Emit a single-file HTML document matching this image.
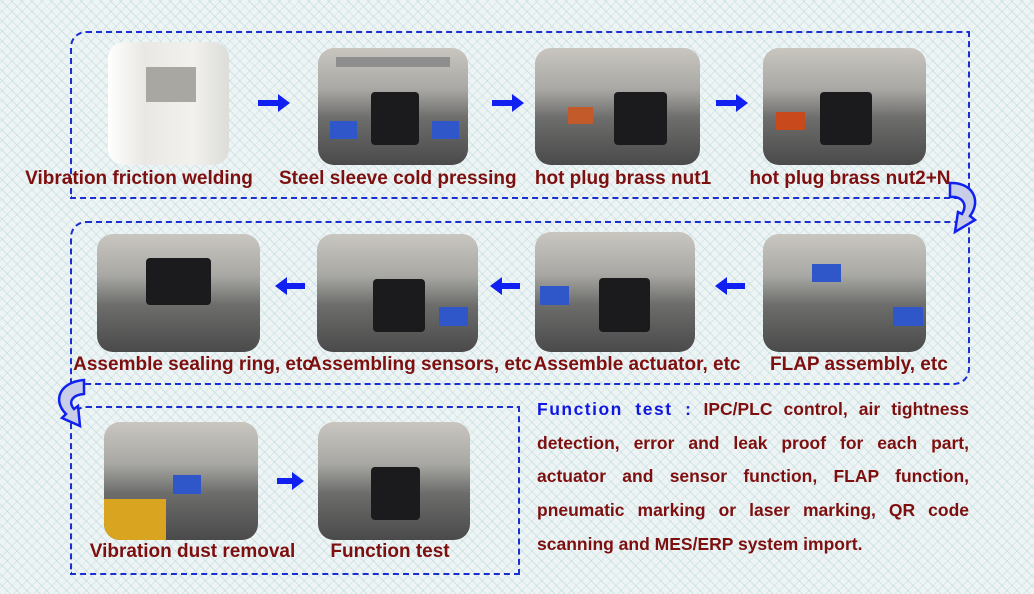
<!DOCTYPE html>
<html><head><meta charset="utf-8"><style>
body{margin:0;width:1034px;height:594px;overflow:hidden;position:relative;font-family:"Liberation Sans",sans-serif;
background-color:#eef3f4;
background-image:repeating-linear-gradient(45deg,rgba(150,200,205,.35) 0 1px,transparent 1px 7px),repeating-linear-gradient(-45deg,rgba(150,200,205,.25) 0 1px,transparent 1px 7px);}
.box{position:absolute;border:2px dashed #1a2fd0;}
.ph{position:absolute;border-radius:16px;overflow:hidden;
background:linear-gradient(180deg,#c9c6c0 0%,#a9a8a4 35%,#6d6d6c 60%,#4a4a4a 100%);}
.ph .blk{position:absolute;left:35%;top:38%;width:32%;height:45%;background:#1b1b1e;border-radius:4px}
.ph .bl{position:absolute;width:18%;height:16%;background:#2f57c9;bottom:22%}
.ph .fr{position:absolute;left:12%;top:8%;width:76%;height:8%;background:#8e8e8e}
.lb{position:absolute;font-weight:bold;font-size:19px;color:#7d0f0f;white-space:nowrap;letter-spacing:0px;text-align:center}
.tx{position:absolute;left:537px;width:432px;font-weight:bold;font-size:17.5px;color:#7d0f0f;text-align:justify;text-align-last:justify;white-space:nowrap;letter-spacing:0px}
</style></head><body>
<div class="box" style="left:70px;top:31px;width:896px;height:164px;border-radius:16px 0 0 0"></div>
<div class="box" style="left:70px;top:221px;width:896px;height:160px;border-radius:16px 0 16px 0"></div>
<div class="box" style="left:70px;top:406px;width:446px;height:165px;border-radius:16px 0 0 0"></div>

<div class="ph" style="left:108px;top:42px;width:121px;height:123px;background:linear-gradient(90deg,#fff 0%,#e9e8e4 30%,#f2f1ee 70%,#dcdcd8 100%)"><div style="position:absolute;left:38px;top:25px;width:50px;height:35px;background:#a9a7a2"></div></div>
<div class="ph" style="left:318px;top:48px;width:150px;height:117px"><div class="fr"></div><div class="blk"></div><div class="bl" style="left:8%"></div><div class="bl" style="right:6%"></div></div>
<div class="ph" style="left:535px;top:48px;width:165px;height:117px"><div class="blk" style="left:48%"></div><div style="position:absolute;left:20%;top:50%;width:15%;height:15%;background:#c25a2a"></div></div>
<div class="ph" style="left:763px;top:48px;width:163px;height:117px"><div class="blk"></div><div style="position:absolute;left:8%;top:55%;width:18%;height:15%;background:#c84a1c"></div></div>
<div class="lb" style="left:22px;top:168px;width:234px">Vibration friction welding</div>
<div class="lb" style="left:279px;top:168px;width:234px">Steel sleeve cold pressing</div>
<div class="lb" style="left:533px;top:168px;width:180px">hot plug brass nut1</div>
<div class="lb" style="left:730px;top:168px;width:240px">hot plug brass nut2+N</div>

<div class="ph" style="left:97px;top:234px;width:163px;height:118px"><div class="blk" style="left:30%;top:20%;width:40%;height:40%"></div></div>
<div class="ph" style="left:317px;top:234px;width:161px;height:118px"><div class="blk"></div><div class="bl" style="right:6%"></div></div>
<div class="ph" style="left:535px;top:232px;width:160px;height:120px"><div class="blk" style="left:40%"></div><div class="bl" style="left:3%;top:45%"></div></div>
<div class="ph" style="left:763px;top:234px;width:163px;height:118px"><div class="bl" style="left:30%;top:25%"></div><div class="bl" style="right:2%"></div></div>
<div class="lb" style="left:73px;top:354px;width:240px">Assemble sealing ring, etc</div>
<div class="lb" style="left:308px;top:354px;width:221px">Assembling sensors, etc</div>
<div class="lb" style="left:533px;top:354px;width:208px">Assemble actuator, etc</div>
<div class="lb" style="left:770px;top:354px;width:176px">FLAP assembly, etc</div>

<div class="ph" style="left:104px;top:422px;width:154px;height:118px"><div style="position:absolute;left:0;bottom:0;width:40%;height:35%;background:#d9a520"></div><div class="bl" style="left:45%;top:45%"></div></div>
<div class="ph" style="left:318px;top:422px;width:152px;height:118px"><div class="blk"></div></div>
<div class="lb" style="left:86px;top:541px;width:213px">Vibration dust removal</div>
<div class="lb" style="left:328px;top:541px;width:124px">Function test</div>

<svg width="1034" height="594" style="position:absolute;left:0;top:0">
<g fill="#1020f0">
<path d="M258 100h20v-6l12 9-12 9v-6h-20z"/>
<path d="M492 100h20v-6l12 9-12 9v-6h-20z"/>
<path d="M716 100h20v-6l12 9-12 9v-6h-20z"/>
<path d="M305 283h-18v-6l-12 9 12 9v-6h18z"/>
<path d="M520 283h-18v-6l-12 9 12 9v-6h18z"/>
<path d="M745 283h-18v-6l-12 9 12 9v-6h18z"/>
<path d="M277 478h15v-6l12 9-12 9v-6h-15z"/>
</g>
<path d="M950 183 C972 182 982 200 970 216 L975 220 L955 232 L958 212 L962 214 C968 204 962 196 950 197 Z" fill="#c8cde8" stroke="#1020f0" stroke-width="2.5"/>
<path d="M84 380 C60 382 52 400 66 414 L62 418 L80 426 L78 406 L74 409 C68 402 72 395 84 394 Z" fill="#c8cde8" stroke="#1020f0" stroke-width="2.5"/>
</svg>

<div class="tx" style="top:399px"><span style="color:#1018e0;letter-spacing:1.5px">Function test :</span> IPC/PLC control, air tightness</div>
<div class="tx" style="top:433px">detection, error and leak proof for each part,</div>
<div class="tx" style="top:466px">actuator and sensor function, FLAP function,</div>
<div class="tx" style="top:500px">pneumatic marking or laser marking, QR code</div>
<div class="tx" style="top:534px;text-align-last:left">scanning and MES/ERP system import.</div>
</body></html>
